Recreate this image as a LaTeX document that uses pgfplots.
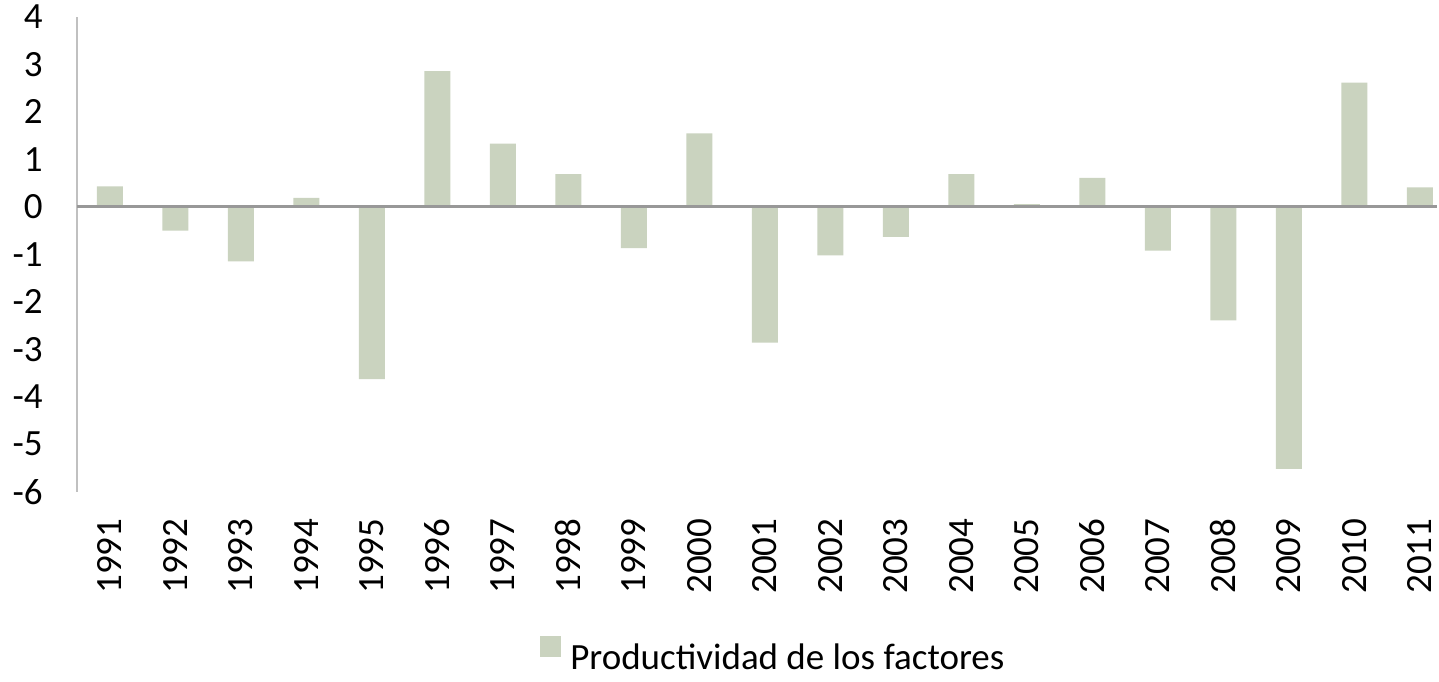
\documentclass[border=0pt]{standalone}
\usepackage{pgfplots}
\pgfplotsset{compat=1.18}
\usepackage{pgfplotstable}
\usepackage{fontspec}
\setmainfont{Carlito}

\definecolor{barcol}{RGB}{202,211,191}
\definecolor{zeroline}{RGB}{152,152,152}
\definecolor{yline}{RGB}{192,192,192}

% productividad de los factores, 1991-2011
\pgfplotstableread{
idx val
0  0.43
1  -0.50
2  -1.15
3  0.19
4  -3.63
5  2.86
6  1.33
7  0.69
8  -0.87
9  1.55
10 -2.86
11 -1.02
12 -0.63
13 0.69
14 0.06
15 0.61
16 -0.92
17 -2.39
18 -5.52
19 2.62
20 0.41
}\tfp

\begin{document}
\begin{tikzpicture}
\path[use as bounding box] (0,0) rectangle (719.5pt,340.5pt);
\begin{axis}[at={(38.5pt,94.65pt)},anchor=south west,
  scale only axis,width=680pt,height=237.35pt,
  xmin=-0.5,xmax=20.263,ymin=-6,ymax=4,
  ybar,bar width=13pt,clip=false,
  axis line style={draw=none},tick style={draw=none},
  xtick={0,...,20},
  xticklabels={1991,1992,1993,1994,1995,1996,1997,1998,1999,2000,2001,2002,2003,2004,2005,2006,2007,2008,2009,2010,2011},
  ytick={-6,-5,-4,-3,-2,-1,0,1,2,3,4},
  yticklabels={-6,-5,-4,-3,-2,-1,0,1,2,3,4},
  ticklabel style={font=\fontsize{18.5}{22}\selectfont},
  xticklabel style={rotate=90,anchor=east,inner sep=0pt},
  xticklabel shift=9pt,
  yticklabel style={anchor=east,inner sep=0pt},
  yticklabel shift=17pt,
  legend image code/.code={\fill[barcol] (0pt,0.5pt) rectangle (10.5pt,11pt); \path (15pt,0pt);},
  legend style={draw=none,fill=none,inner sep=0pt,
    at={(rel axis cs:0.3404,-0.343)},anchor=west,
    font=\fontsize{18.5}{22}\selectfont,nodes={inner sep=0pt}},
]
\addplot[fill=barcol,draw=none] table[x=idx,y=val]{\tfp};
\addlegendentry{Productividad de los factores}
\draw[yline,line width=1.2pt] (axis cs:-0.5,-6) -- (axis cs:-0.5,4);
\draw[zeroline,line width=1.5pt] (axis cs:-0.5,0) -- (axis cs:20.263,0);
\end{axis}
\end{tikzpicture}
\end{document}
